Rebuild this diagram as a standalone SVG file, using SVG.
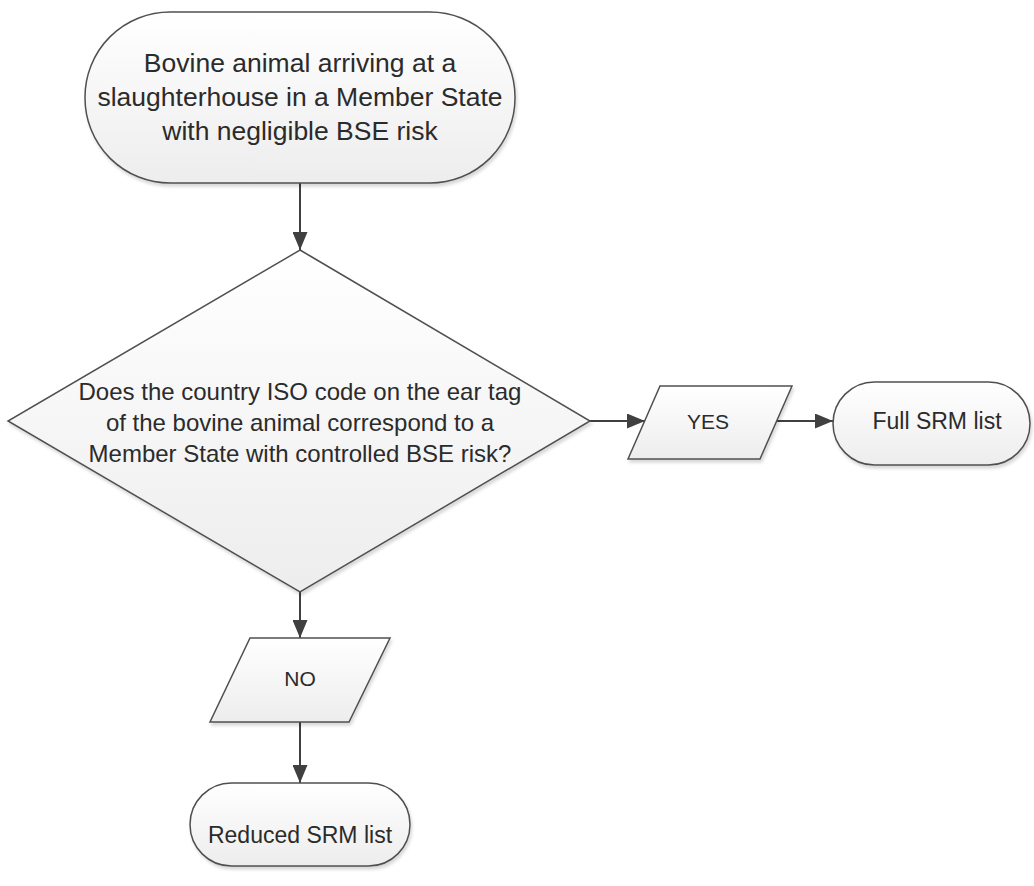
<svg xmlns="http://www.w3.org/2000/svg" width="1034" height="886" viewBox="0 0 1034 886">
<defs>
<linearGradient id="fillg" x1="0" y1="0" x2="0" y2="1">
<stop offset="0" stop-color="#ffffff"/>
<stop offset="1" stop-color="#ededed"/>
</linearGradient>
<filter id="sh" x="-10%" y="-10%" width="120%" height="130%">
<feDropShadow dx="1.5" dy="3" stdDeviation="1.5" flood-color="#000" flood-opacity="0.15"/>
</filter>
<marker id="arr" markerUnits="userSpaceOnUse" markerWidth="18" markerHeight="15" refX="18" refY="7.5" orient="auto">
<path d="M0,0 L18,7.5 L0,15 z" fill="#404040"/>
</marker>
</defs>
<style>
.shape{fill:url(#fillg);stroke:#505050;stroke-width:1.5;filter:url(#sh)}
.conn{stroke:#404040;stroke-width:2;fill:none;marker-end:url(#arr)}
text{font-family:"Liberation Sans",Arial,sans-serif;fill:#2b2b2b;text-anchor:middle}
</style>
<rect width="1034" height="886" fill="#ffffff"/>
<g id="connectors">
<line class="conn" x1="300" y1="183" x2="300" y2="250"/>
<line class="conn" x1="590" y1="421" x2="645" y2="421"/>
<line class="conn" x1="777" y1="421" x2="833" y2="421"/>
<line class="conn" x1="300" y1="592" x2="300" y2="638"/>
<line class="conn" x1="300" y1="722" x2="300" y2="783"/>
</g>
<g id="start">
<rect class="shape" x="85" y="12" width="430" height="171" rx="85" ry="85"/>
<text font-size="26.5"><tspan x="300" y="72">Bovine animal arriving at a</tspan><tspan x="300" y="106">slaughterhouse in a Member State</tspan><tspan x="300" y="140">with negligible BSE risk</tspan></text>
</g>
<g id="decision">
<polygon class="shape" points="300,250 590,421 300,592 8,421"/>
<text font-size="24"><tspan x="300" y="400">Does the country ISO code on the ear tag</tspan><tspan x="300" y="431">of the bovine animal correspond to a</tspan><tspan x="300" y="462">Member State with controlled BSE risk?</tspan></text>
</g>
<g id="yes">
<polygon class="shape" points="660,386 792,386 760,459 628,459"/>
<text font-size="21" x="708" y="429">YES</text>
</g>
<g id="full">
<rect class="shape" x="833" y="382" width="197" height="83" rx="41.5" ry="41.5"/>
<text font-size="23" x="937" y="429">Full SRM list</text>
</g>
<g id="no">
<polygon class="shape" points="250,638 390,638 349,722 210,722"/>
<text font-size="21" x="300" y="686">NO</text>
</g>
<g id="reduced">
<rect class="shape" x="190" y="783" width="220" height="83" rx="41.5" ry="41.5"/>
<text font-size="23" x="300" y="843">Reduced SRM list</text>
</g>
</svg>
